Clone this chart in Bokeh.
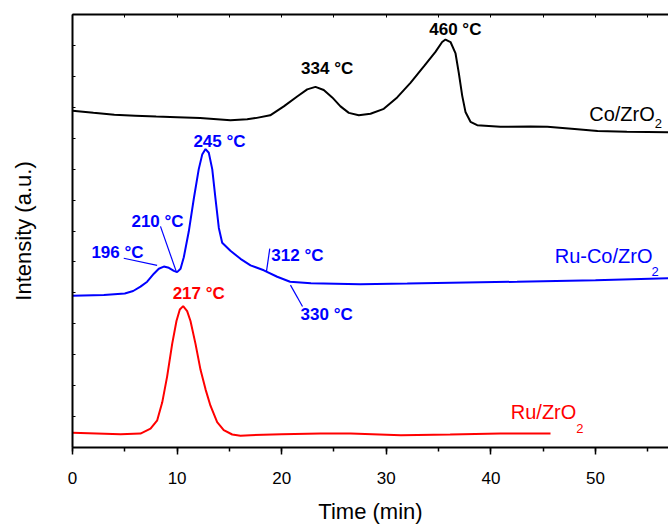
from bokeh.plotting import figure
from bokeh.models import (Range1d, LinearAxis, SingleIntervalTicker, FixedTicker,
                          ColumnDataSource, CustomLabelingPolicy)
from bokeh.core.properties import value
from bokeh.embed import file_html
from bokeh.resources import INLINE

FONT = "Liberation Sans"

# ---- data (time in min, intensity in a.u.) ----
co_time = [0, 2, 4, 6, 8, 10, 12.2, 15.1, 16.7, 17.5, 18.9, 20.2, 21.48, 22.44, 23.23,
           24.02, 24.83, 25.62, 26.42, 27.37, 28.49, 29.76, 31.04, 32.31, 33.59, 34.7,
           35.34, 35.66, 36.14, 36.62, 36.93, 37.26, 37.57, 38.05, 38.69, 40.9, 43.8,
           45.4, 48, 50.2, 53, 57]
co_int = [10.89, 10.82, 10.76, 10.73, 10.70, 10.68, 10.65, 10.58, 10.61, 10.65, 10.74,
          11.03, 11.35, 11.58, 11.66, 11.56, 11.32, 11.03, 10.82, 10.74, 10.79, 10.95,
          11.32, 11.79, 12.32, 12.79, 13.11, 13.19, 13.11, 12.74, 12.11, 11.37, 10.85,
          10.53, 10.42, 10.37, 10.38, 10.37, 10.30, 10.23, 10.21, 10.19]

ruco_time = [0, 3, 5, 5.8, 6.5, 7.14, 7.78, 8.25, 8.73, 9.21, 9.69, 10.0, 10.33, 10.64,
             11.12, 11.6, 12.07, 12.4, 12.72, 13.03, 13.36, 13.67, 13.99, 14.31, 15.1,
             16.06, 17.02, 18.29, 19.57, 20.8, 22.8, 27.5, 32, 42.5, 50, 57]
ruco_int = [4.905, 4.93, 4.98, 5.06, 5.20, 5.36, 5.62, 5.78, 5.85, 5.81, 5.71, 5.67, 5.78,
            6.15, 6.99, 8.05, 9.00, 9.47, 9.65, 9.53, 9.00, 8.05, 7.10, 6.62, 6.36, 6.10,
            5.89, 5.73, 5.52, 5.36, 5.31, 5.28, 5.30, 5.36, 5.41, 5.47]

ru_time = [0, 4.6, 6.5, 7.46, 8.1, 8.58, 9.05, 9.53, 9.94, 10.26, 10.58, 10.96, 11.28,
           11.76, 12.24, 12.72, 13.19, 13.83, 14.46, 15.27, 16.06, 17.0, 20, 23.7, 26.6,
           31.4, 36.1, 40.9, 45.7]
ru_int = [0.475, 0.43, 0.45, 0.61, 0.88, 1.46, 2.30, 3.35, 4.09, 4.46, 4.57, 4.41, 4.09,
          3.35, 2.51, 1.88, 1.35, 0.82, 0.56, 0.42, 0.38, 0.40, 0.43, 0.45, 0.45, 0.40,
          0.42, 0.45, 0.45]

# peak annotations
peak_text = ["334 °C", "460 °C", "245 °C", "210 °C", "196 °C", "312 °C", "330 °C", "217 °C"]
peak_x = [24.35, 36.6, 14.05, 8.13, 4.3, 21.5, 24.3, 12.07]
peak_y = [12.27, 13.53, 9.9, 7.31, 6.31, 6.22, 4.30, 4.97]
peak_color = ["black", "black", "blue", "blue", "blue", "blue", "blue", "red"]

# leader lines (from label to curve)
lead_x0 = [4.9, 8.41, 18.86, 20.84]
lead_y0 = [6.12, 7.15, 6.43, 5.25]
lead_x1 = [8.09, 9.94, 18.55, 21.99]
lead_y1 = [5.89, 5.67, 5.70, 4.56]

# series labels
series_name = ["Co/ZrO", "Ru-Co/ZrO", "Ru/ZrO"]
series_x = [49.4, 46.1, 41.9]
series_y = [10.79, 6.20, 1.14]
sub_x = [56.0, 55.7, 48.5]
sub_y = [10.47, 5.70, 0.61]
series_color = ["black", "blue", "red"]

x_major_step = 10
x_top_ticks = list(range(0, 60, 5))
y_ticks = list(range(0, 15))

p = figure(width=668, height=526, output_backend="svg", toolbar_location=None,
           x_range=Range1d(0, 56.98), y_range=Range1d(0, 14),
           x_axis_location=None, y_axis_location=None)
p.min_border_left = 72
p.min_border_right = 0
p.min_border_top = 14
p.min_border_bottom = 70
p.outline_line_color = None
p.grid.visible = False
p.background_fill_color = "white"
p.border_fill_color = "white"

no_labels = CustomLabelingPolicy(code="""
const n = indices.size;
for (let i = 0; i < n; i++) indices.unset(i);
return indices;
""")

# bottom axis
xb = LinearAxis(ticker=SingleIntervalTicker(interval=x_major_step, num_minor_ticks=2))
xb.axis_label = "Time (min)"
xb.axis_label_text_font = FONT
xb.axis_label_text_font_size = "22px"
xb.axis_label_text_font_style = "normal"
xb.axis_label_text_color = "black"
xb.axis_label_standoff = 12
xb.major_label_text_font = FONT
xb.major_label_text_font_size = "17px"
xb.major_label_text_color = "black"
xb.major_label_standoff = 17
xb.axis_line_width = 2
xb.axis_line_color = "black"
xb.major_tick_in = 0
xb.major_tick_out = 7
xb.minor_tick_in = 0
xb.minor_tick_out = 4
xb.major_tick_line_width = 1.5
xb.minor_tick_line_width = 1.5
xb.major_tick_line_color = "black"
xb.minor_tick_line_color = "black"
p.add_layout(xb, "below")

# top axis (mirror, no labels)
xt = LinearAxis(ticker=FixedTicker(ticks=x_top_ticks, minor_ticks=[]))
xt.major_label_policy = no_labels
xt.major_label_text_font_size = "6px"
xt.major_label_standoff = 0
xt.axis_line_width = 2
xt.axis_line_color = "black"
xt.major_tick_in = 3
xt.major_tick_out = 0
xt.minor_tick_in = 0
xt.minor_tick_out = 0
p.add_layout(xt, "above")

# left axis
yl = LinearAxis(ticker=FixedTicker(ticks=y_ticks, minor_ticks=[]))
yl.major_label_policy = no_labels
yl.axis_label = "Intensity (a.u.)"
yl.axis_label_text_font = FONT
yl.axis_label_text_font_size = "22px"
yl.axis_label_text_font_style = "normal"
yl.axis_label_text_color = "black"
yl.axis_label_standoff = 27
yl.major_label_text_font_size = "6px"
yl.major_label_standoff = 0
yl.axis_line_width = 2
yl.axis_line_color = "black"
yl.major_tick_in = 3
yl.major_tick_out = 0
yl.minor_tick_in = 0
yl.minor_tick_out = 0
p.add_layout(yl, "left")

# curves
p.line(co_time, co_int, line_color="black", line_width=2)
p.line(ruco_time, ruco_int, line_color="blue", line_width=2)
p.line(ru_time, ru_int, line_color="red", line_width=2)

# leaders
p.segment(x0=lead_x0, y0=lead_y0, x1=lead_x1, y1=lead_y1, line_color="blue", line_width=1.2)

# peak labels
src = ColumnDataSource(dict(x=peak_x, y=peak_y, t=peak_text, c=peak_color))
p.text(x="x", y="y", text="t", text_color="c", source=src, text_font=value(FONT),
       text_font_size="17px", text_font_style="bold", text_align="center",
       text_baseline="middle")

# series labels
s1 = ColumnDataSource(dict(x=series_x, y=series_y, t=series_name, c=series_color))
p.text(x="x", y="y", text="t", text_color="c", source=s1, text_font=value(FONT),
       text_font_size="20px", text_align="left", text_baseline="middle")
s2 = ColumnDataSource(dict(x=sub_x, y=sub_y, t=["2", "2", "2"], c=series_color))
p.text(x="x", y="y", text="t", text_color="c", source=s2, text_font=value(FONT),
       text_font_size="13px", text_align="center", text_baseline="middle")

open("out.html", "w").write(file_html(p, INLINE))
